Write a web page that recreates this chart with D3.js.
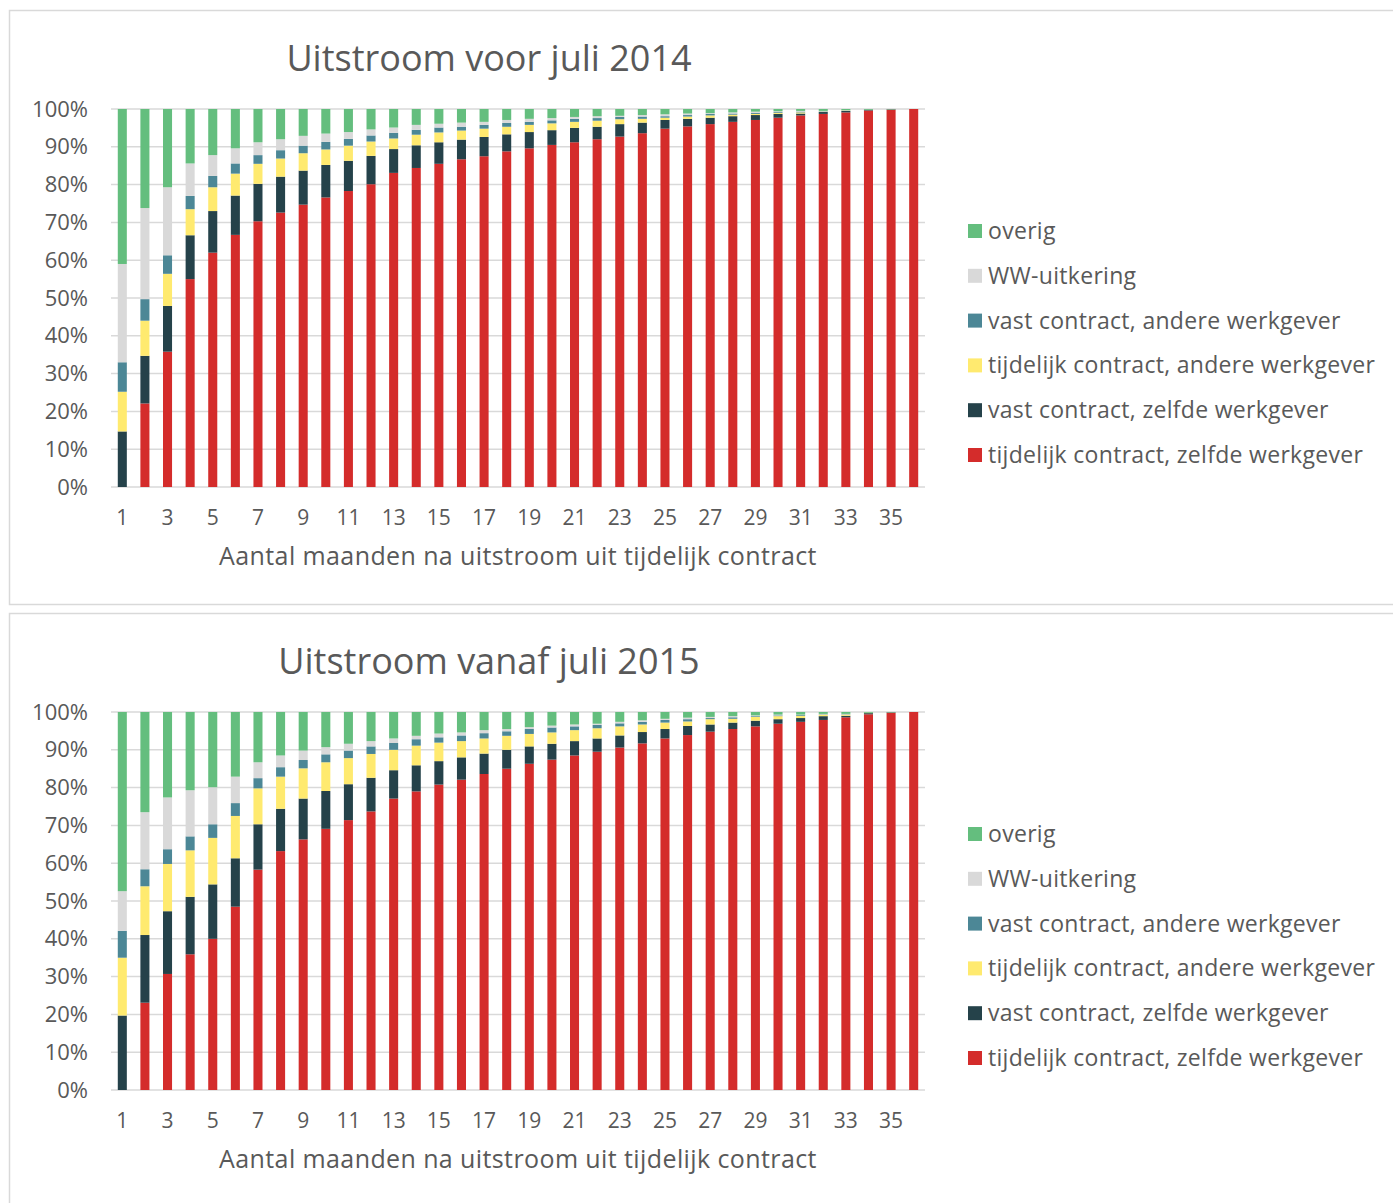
<!DOCTYPE html>
<html>
<head>
<meta charset="utf-8">
<script src="https://cdn.jsdelivr.net/npm/d3@7"></script>
<style>
  body { margin: 0; background: #fff; }
  svg text { font-family: "Open Sans", "Noto Sans", sans-serif; fill: #595959; }
</style>
</head>
<body>
<div id="chart"></div>
<script>
// categorieen: maanden na uitstroom
const months = d3.range(1, 37);
const seriesKeys = ['tz', 'vz', 'ta', 'va', 'ww', 'ov'];
const seriesLabels = {
  ov: 'overig',
  ww: 'WW-uitkering',
  va: 'vast contract, andere werkgever',
  ta: 'tijdelijk contract, andere werkgever',
  vz: 'vast contract, zelfde werkgever',
  tz: 'tijdelijk contract, zelfde werkgever'
};
const seriesColors = { ov: '#64be7e', ww: '#d9d9d9', va: '#4c8796', ta: '#ffea6f', vz: '#25424a', tz: '#d42c2b' };
const legendOrder = ['ov', 'ww', 'va', 'ta', 'vz', 'tz'];

// Uitstroom voor juli 2014 (percentages)
const tz2014 = [0, 22.1, 35.8, 55.0, 62.0, 66.7, 70.3, 72.6, 74.7, 76.6, 78.3, 80.1, 83.1, 84.4, 85.5, 86.7, 87.5, 88.8, 89.6, 90.5, 91.2, 92.0, 92.7, 93.6, 94.8, 95.4, 96.0, 96.6, 97.1, 97.7, 98.3, 98.7, 99.1, 99.6, 99.8, 100];
const vz2014 = [14.7, 12.6, 12.1, 11.6, 11.0, 10.4, 9.9, 9.5, 9.0, 8.6, 8.0, 7.5, 6.3, 6.0, 5.7, 5.2, 5.1, 4.5, 4.3, 3.9, 3.8, 3.3, 3.3, 2.8, 2.3, 2.0, 1.7, 1.5, 1.3, 1.0, 0.5, 0.5, 0.4, 0.2, 0.1, 0];
const ta2014 = [10.5, 9.3, 8.5, 6.9, 6.3, 5.8, 5.3, 4.8, 4.6, 4.1, 4.0, 3.8, 2.8, 2.8, 2.6, 2.4, 2.2, 2.0, 1.9, 1.8, 1.6, 1.6, 1.3, 1.0, 0.6, 0.6, 0.6, 0.4, 0.3, 0.3, 0.3, 0.1, 0.1, 0, 0, 0];
const va2014 = [7.8, 5.7, 4.9, 3.5, 3.0, 2.7, 2.3, 2.2, 2.0, 2.0, 1.8, 1.6, 1.5, 1.3, 1.3, 1.0, 1.0, 1.0, 0.8, 0.8, 0.8, 0.7, 0.6, 0.6, 0.4, 0.4, 0.4, 0.3, 0.3, 0.2, 0.2, 0.1, 0.05, 0, 0, 0];
const ww2014 = [26.0, 24.1, 18.0, 8.6, 5.5, 4.0, 3.4, 2.9, 2.6, 2.2, 1.8, 1.6, 1.4, 1.3, 1.0, 1.1, 0.8, 0.8, 0.8, 0.6, 0.5, 0.5, 0.3, 0.4, 0.5, 0.4, 0.2, 0.3, 0.3, 0.2, 0.2, 0.1, 0.05, 0, 0, 0];
const ov2014 = [41.0, 26.2, 20.7, 14.4, 12.2, 10.4, 8.8, 8.0, 7.1, 6.5, 6.1, 5.4, 4.9, 4.2, 3.9, 3.6, 3.4, 2.9, 2.6, 2.4, 2.1, 1.9, 1.8, 1.6, 1.4, 1.2, 1.1, 0.9, 0.7, 0.6, 0.5, 0.5, 0.3, 0.2, 0.1, 0];

// Uitstroom vanaf juli 2015 (percentages)
const tz2015 = [0, 23.1, 30.7, 35.9, 40.0, 48.5, 58.3, 63.2, 66.3, 69.1, 71.4, 73.7, 77.1, 79.0, 80.8, 82.1, 83.6, 85.0, 86.3, 87.4, 88.5, 89.5, 90.6, 91.7, 93.0, 93.9, 94.8, 95.5, 96.2, 96.9, 97.4, 97.9, 98.6, 99.4, 99.8, 100];
const vz2015 = [19.7, 17.9, 16.6, 15.2, 14.4, 12.8, 12.0, 11.2, 10.8, 10.0, 9.5, 8.9, 7.5, 6.9, 6.2, 5.9, 5.4, 5.0, 4.6, 4.2, 3.8, 3.5, 3.2, 3.0, 2.5, 2.4, 1.9, 1.7, 1.5, 1.2, 1.0, 1.0, 0.4, 0.3, 0.1, 0];
const ta2015 = [15.3, 12.9, 12.5, 12.3, 12.3, 11.2, 9.5, 8.5, 8.0, 7.6, 6.9, 6.3, 5.4, 5.2, 4.9, 4.3, 4.0, 3.7, 3.3, 3.0, 2.9, 2.7, 2.4, 2.0, 1.7, 1.2, 1.4, 1.0, 1.0, 0.8, 0.6, 0.4, 0.3, 0.1, 0, 0];
const va2015 = [7.1, 4.5, 3.9, 3.7, 3.6, 3.4, 2.7, 2.5, 2.2, 2.1, 2.0, 2.0, 1.8, 1.7, 1.4, 1.5, 1.4, 1.2, 1.3, 1.3, 1.0, 0.9, 0.8, 0.7, 0.7, 0.6, 0.3, 0.4, 0.2, 0.2, 0.2, 0.1, 0.1, 0, 0, 0];
const ww2015 = [10.5, 15.1, 13.7, 12.2, 9.8, 7.0, 4.2, 3.1, 2.5, 1.9, 1.8, 1.4, 1.2, 0.9, 1.0, 0.8, 0.8, 0.6, 0.5, 0.5, 0.5, 0.3, 0.4, 0.4, 0.3, 0.4, 0.3, 0.3, 0.2, 0.2, 0.1, 0.1, 0.1, 0, 0, 0];
const ov2015 = [47.4, 26.5, 22.6, 20.7, 19.9, 17.1, 13.3, 11.5, 10.2, 9.3, 8.4, 7.7, 7.0, 6.3, 5.7, 5.4, 4.8, 4.5, 4.0, 3.6, 3.3, 3.1, 2.6, 2.2, 1.8, 1.5, 1.3, 1.1, 0.9, 0.7, 0.7, 0.5, 0.5, 0.2, 0.1, 0];

const yTicks = d3.range(0, 1.0001, 0.1);
const xTickLabels = months.filter(m => m % 2 === 1);
const xTitle = 'Aantal maanden na uitstroom uit tijdelijk contract';

const charts = [
  { title: 'Uitstroom voor juli 2014', tz: tz2014, vz: vz2014, ta: ta2014, va: va2014, ww: ww2014, ov: ov2014 },
  { title: 'Uitstroom vanaf juli 2015', tz: tz2015, vz: vz2015, ta: ta2015, va: va2015, ww: ww2015, ov: ov2015 }
];

const W = 1393, H = 1203;
const svg = d3.select('#chart').append('svg')
  .attr('width', W).attr('height', H);

const panelStep = 603;
const plot = { left: 111, right: 925, top: 109, bottom: 487 };
const fontFam = '"Open Sans", "Noto Sans", sans-serif';

charts.forEach((c, i) => {
  const g = svg.append('g').attr('transform', `translate(0,${i * panelStep})`);

  // kader
  g.append('rect')
    .attr('x', 9.5).attr('y', 10.5)
    .attr('width', 1400).attr('height', 594)
    .attr('fill', '#fff')
    .attr('stroke', '#d9d9d9').attr('stroke-width', 1.5);

  const rows = months.map((m, j) => {
    const r = { month: m };
    seriesKeys.forEach(k => { r[k] = c[k][j]; });
    return r;
  });
  const stacked = d3.stack().keys(seriesKeys).offset(d3.stackOffsetExpand)(rows);

  const x = d3.scaleBand().domain(months)
    .range([plot.left, plot.right]).paddingInner(0.6).paddingOuter(0.3);
  const y = d3.scaleLinear().domain([0, 1]).range([plot.bottom, plot.top]);

  // rasterlijnen
  g.append('g').selectAll('line').data(yTicks).join('line')
    .attr('x1', plot.left).attr('x2', plot.right)
    .attr('y1', d => y(d)).attr('y2', d => y(d))
    .attr('stroke', '#d9d9d9').attr('stroke-width', 1.5);

  // staven
  g.append('g').selectAll('g').data(stacked).join('g')
    .attr('fill', d => seriesColors[d.key])
    .selectAll('rect').data(d => d).join('rect')
    .attr('x', d => x(d.data.month))
    .attr('width', x.bandwidth())
    .attr('y', d => y(d[1]))
    .attr('height', d => Math.max(0, y(d[0]) - y(d[1])));

  // y-as
  const yAxis = g.append('g')
    .attr('transform', `translate(${plot.left - 23},0)`)
    .call(d3.axisLeft(y).tickValues(yTicks).tickSize(0).tickPadding(0).tickFormat(d3.format('.0%')));
  yAxis.select('.domain').remove();
  yAxis.selectAll('text').attr('font-size', 22).attr('fill', '#595959')
    .style('font-family', fontFam);

  // x-as
  const xAxis = g.append('g')
    .attr('transform', `translate(0,${plot.bottom + 23})`)
    .call(d3.axisBottom(x).tickValues(xTickLabels).tickSize(0).tickPadding(0));
  xAxis.select('.domain').remove();
  xAxis.selectAll('text').attr('font-size', 21).attr('fill', '#595959')
    .style('font-family', fontFam);

  // titels
  g.append('text')
    .attr('x', 489).attr('y', 71)
    .attr('text-anchor', 'middle')
    .attr('font-size', 36)
    .text(c.title);

  g.append('text')
    .attr('x', 518).attr('y', 565)
    .attr('text-anchor', 'middle')
    .attr('font-size', 25)
    .attr('letter-spacing', 0.4)
    .text(xTitle);

  // legenda
  const leg = g.append('g').selectAll('g').data(legendOrder).join('g')
    .attr('transform', (d, k) => `translate(968,${231 + k * 44.8})`);
  leg.append('rect')
    .attr('x', 0).attr('y', -7).attr('width', 14).attr('height', 14)
    .attr('fill', d => seriesColors[d]);
  leg.append('text')
    .attr('x', 20).attr('y', 8)
    .attr('font-size', 23)
    .attr('letter-spacing', 0.3)
    .text(d => seriesLabels[d]);
});
</script>
</body>
</html>
